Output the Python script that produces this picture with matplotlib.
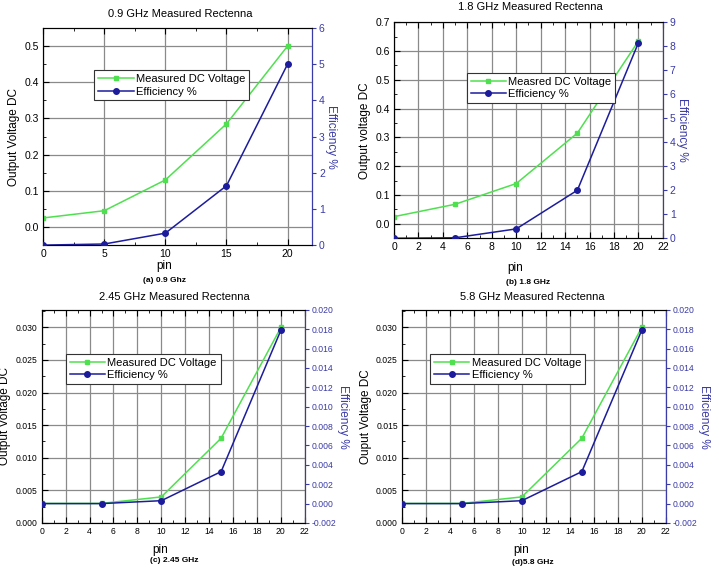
import matplotlib.pyplot as plt
import numpy as np

# data
pin = [0, 5, 10, 15, 20]

volt_09 = [0.025, 0.045, 0.13, 0.285, 0.50]
eff_09 = [0.0, 0.03, 0.33, 1.64, 5.0]

volt_18 = [0.025, 0.068, 0.14, 0.315, 0.635]
eff_18 = [0.0, 0.02, 0.39, 2.0, 8.15]

volt_245 = [0.003, 0.003, 0.004, 0.013, 0.030]
eff_245 = [0.0, 0.0, 0.0003, 0.0033, 0.0179]

volt_58 = [0.003, 0.003, 0.004, 0.013, 0.030]
eff_58 = [0.0, 0.0, 0.0003, 0.0033, 0.0179]

GREEN = '#4fe04f'
BLUE = '#1c1c9c'
AXBLUE = '#3a3aa8'

plt.rcParams['font.family'] = ['Liberation Sans', 'DejaVu Sans']
fig = plt.figure(figsize=(7.19, 5.70), dpi=100)


def panel(rect, volt, eff, vlim, elim, vticks, eticks, xticks, vlabel, vleg,
          title, title_xy, caption, caption_xy, pin_y, leg_pos, efmt, vfmt, tsize):
    ax = fig.add_axes(rect)
    ax2 = ax.twinx()
    ax.plot(pin, volt, '-s', color=GREEN, ms=3.5, lw=1.1, label=vleg, zorder=3)
    ax2.plot(pin, eff, '-o', color=BLUE, ms=4, lw=1.1, label='Efficiency %', zorder=3)
    ax.set_xticks(xticks)
    step = xticks[1] - xticks[0]
    ax.set_xticks(np.arange(0, 22.1, step / 2), minor=True)
    ax.set_xlim(0, 22)
    ax.set_yticks(vticks)
    ax.set_yticklabels([vfmt.format(v) for v in vticks])
    vs = vticks[1] - vticks[0]
    ax.set_yticks(np.arange(vticks[0] - vs / 2, vlim[1], vs / 2), minor=True)
    ax.set_ylim(*vlim)
    ax2.set_yticks(eticks)
    ax2.set_yticklabels([efmt.format(v) for v in eticks])
    ax2.set_ylim(*elim)
    ax.grid(True, which='major', color='#8a8a8a', lw=0.9)
    ax.tick_params(which='both', direction='in', top=True, labelsize=tsize, length=4, pad=3)
    ax.tick_params(which='minor', length=2)
    ax2.tick_params(direction='out', labelsize=tsize, colors=AXBLUE, length=3, pad=2)
    ax2.spines['right'].set_color(AXBLUE)
    for s in ['left', 'top', 'bottom']:
        ax.spines[s].set_color('#333333')
    ax.set_ylabel(vlabel, fontsize=8.5, labelpad=3)
    ax2.set_ylabel('Efficiency %', fontsize=8.5, color=AXBLUE, rotation=270, labelpad=9)
    ax.set_xlabel('pin', fontsize=8.5)
    ax.xaxis.set_label_coords(0.45, pin_y)
    h1, l1 = ax.get_legend_handles_labels()
    h2, l2 = ax2.get_legend_handles_labels()
    leg = ax2.legend(h1 + h2, l1 + l2, loc='upper left', bbox_to_anchor=leg_pos,
                     fontsize=8, fancybox=False, framealpha=1, edgecolor='#333333',
                     handlelength=3.2, borderpad=0.35, labelspacing=0.2, handletextpad=0.2)
    leg.get_frame().set_linewidth(0.8)
    fig.text(title_xy[0], title_xy[1], title, ha='center', va='center', fontsize=8)
    fig.text(caption_xy[0], caption_xy[1], caption, ha='center', va='center',
             fontsize=6, fontweight='bold')


panel([0.060, 0.570, 0.374, 0.381], volt_09, eff_09, (-0.05, 0.55), (0, 6),
      [0.0, 0.1, 0.2, 0.3, 0.4, 0.5], [0, 1, 2, 3, 4, 5, 6], [0, 5, 10, 15, 20],
      'Output Voltage DC', 'Measured DC Voltage', '0.9 GHz Measured Rectenna',
      (0.250, 1 - 14 / 570), '(a) 0.9 Ghz', (0.229, 1 - 280 / 570), -0.07,
      (0.17, 0.83), '{:.0f}', '{:.1f}', 7.5)

panel([0.548, 0.582, 0.374, 0.379], volt_18, eff_18, (-0.05, 0.70), (0, 9),
      [0.0, 0.1, 0.2, 0.3, 0.4, 0.5, 0.6, 0.7], list(range(10)), list(range(0, 23, 2)),
      'Output voltage DC', 'Measred DC Voltage', '1.8 GHz Measured Rectenna',
      (0.737, 1 - 7 / 570), '(b) 1.8 GHz', (0.735, 1 - 282 / 570), -0.11,
      (0.25, 0.79), '{:.0f}', '{:.1f}', 7.5)

panel([0.058, 0.0825, 0.366, 0.374], volt_245, eff_245, (0, 0.0327), (-0.002, 0.020),
      [0.0, 0.005, 0.01, 0.015, 0.02, 0.025, 0.03], list(np.arange(-0.002, 0.0201, 0.002)),
      list(range(0, 23, 2)),
      'Output Voltage DC', 'Measured DC Voltage', '2.45 GHz Measured Rectenna',
      (0.243, 1 - 297 / 570), '(c) 2.45 GHz', (0.243, 1 - 561 / 570), -0.10,
      (0.07, 0.82), '{:.3f}', '{:.3f}', 6.2)

panel([0.559, 0.0825, 0.367, 0.374], volt_58, eff_58, (0, 0.0327), (-0.002, 0.020),
      [0.0, 0.005, 0.01, 0.015, 0.02, 0.025, 0.03], list(np.arange(-0.002, 0.0201, 0.002)),
      list(range(0, 23, 2)),
      'Ouput Voltage DC', 'Measured DC Voltage', '5.8 GHz Measured Rectenna',
      (0.741, 1 - 297 / 570), '(d)5.8 GHz', (0.741, 1 - 562 / 570), -0.10,
      (0.085, 0.82), '{:.3f}', '{:.3f}', 6.2)

fig.savefig('out.png', dpi=100)
